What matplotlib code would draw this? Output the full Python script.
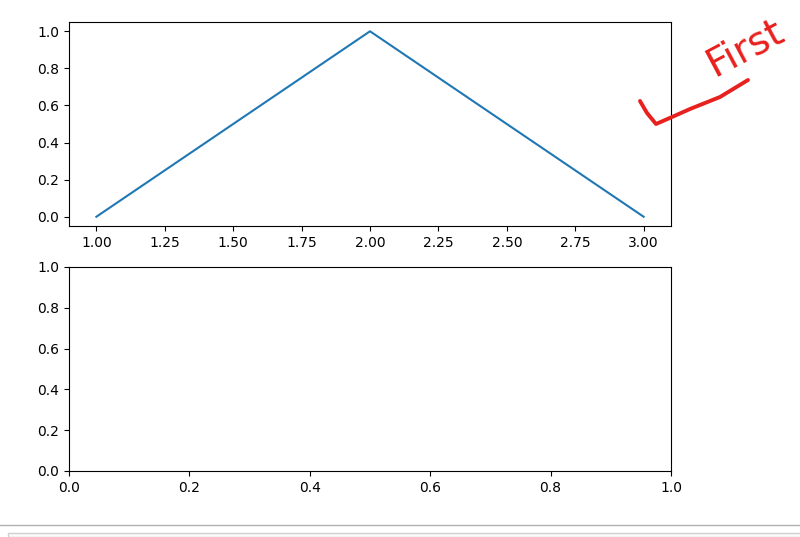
import matplotlib
matplotlib.use("Agg")
import matplotlib.pyplot as plt
from matplotlib.lines import Line2D
from matplotlib.patches import Rectangle

# data for the first panel
x_vals = [1, 2, 3]
y_vals = [0, 1, 0]

# hand-drawn red check mark under the word, in figure pixels (x, y from top)
check_px = [(640, 101), (647, 113), (656, 124), (672, 117), (690, 109), (720, 97), (748, 80)]
note_text = "First"

fig = plt.figure(figsize=(8.0, 5.37), dpi=100)
W, H = 800, 537

ax1 = fig.add_axes([69 / W, 1 - 226 / H, 602 / W, 204 / H])
ax1.plot(x_vals, y_vals)

ax2 = fig.add_axes([69 / W, 1 - 471 / H, 602 / W, 204 / H])

# red scribble
xs = [p[0] / W for p in check_px]
ys = [1 - p[1] / H for p in check_px]
fig.add_artist(Line2D(xs, ys, color="#e8201e", lw=2.8, solid_capstyle="round",
                      solid_joinstyle="round", transform=fig.transFigure))
fig.text(745 / W, 1 - 48 / H, note_text, color="#e8201e", fontsize=28,
         rotation=28, ha="center", va="center", family="DejaVu Sans")

# screenshot border at the bottom
fig.add_artist(Line2D([0, 1], [1 - 525 / H, 1 - 525 / H], color="#b0b0b0", lw=1,
                      transform=fig.transFigure))
fig.add_artist(Rectangle((8 / W, 0), 1, (537 - 533) / H, facecolor="#fafafa",
                         edgecolor="#d0d0d0", lw=1, transform=fig.transFigure))

fig.savefig("out.png", dpi=100)
